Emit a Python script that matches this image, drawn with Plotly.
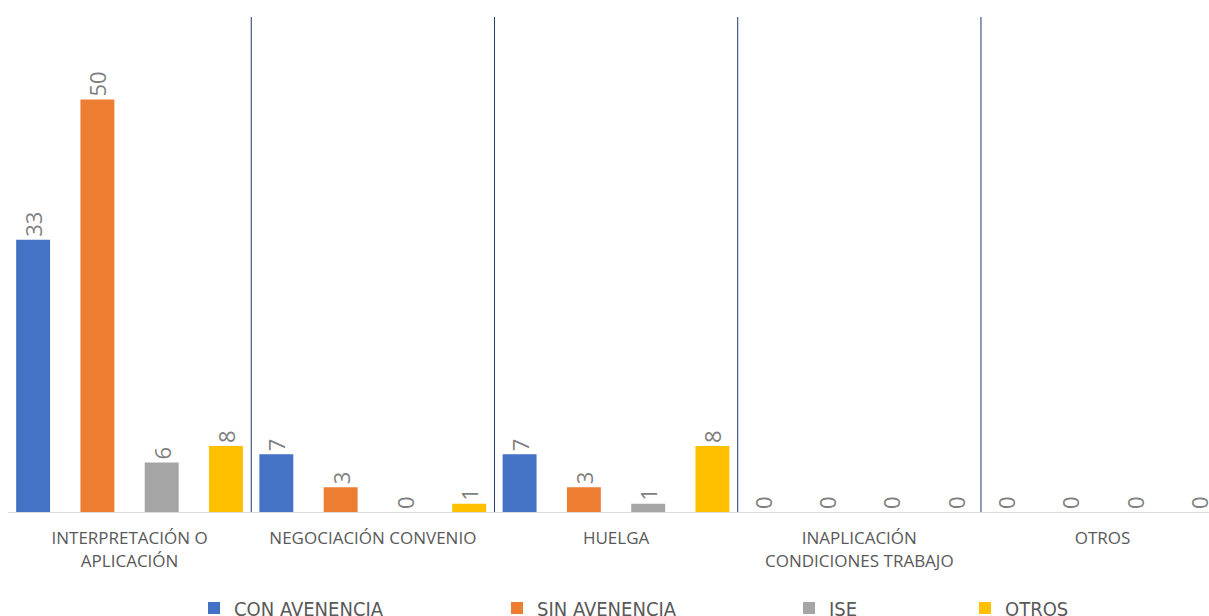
import plotly.graph_objects as go

# Conflict categories (x axis) and counts per outcome
categories = [
    "INTERPRETACIÓN O<br>APLICACIÓN",
    "NEGOCIACIÓN CONVENIO",
    "HUELGA",
    "INAPLICACIÓN<br>CONDICIONES TRABAJO",
    "OTROS",
]
series_names = ["CON AVENENCIA", "SIN AVENENCIA", "ISE", "OTROS"]
con_avenencia = [33, 7, 7, 0, 0]
sin_avenencia = [50, 3, 3, 0, 0]
ise = [6, 0, 1, 0, 0]
otros = [8, 1, 8, 0, 0]

series_values = [con_avenencia, sin_avenencia, ise, otros]
colors = ["#4472C4", "#ED7D31", "#A5A5A5", "#FFC000"]

W, H = 1209, 616
plot_left = 7.7
cat_px = 243.3
bar_w = 0.1395
bar_pitch = 0.2643
group_start = -0.4665

x_idx = list(range(len(categories)))

fig = go.Figure()
legend_px = [208, 511, 803, 979]
for i, (name, vals, col) in enumerate(zip(series_names, series_values, colors)):
    lg = "legend" if i == 0 else f"legend{i + 1}"
    fig.add_trace(go.Bar(
        x=x_idx,
        y=vals,
        name=name,
        marker=dict(color=col, line=dict(width=0)),
        width=bar_w,
        offset=group_start + i * bar_pitch,
        text=[str(v) for v in vals],
        textposition="outside",
        textangle=-90,
        constraintext="none",
        cliponaxis=False,
        textfont=dict(family="Open Sans", size=22, color="#7F7F7F"),
        legend=lg,
        hoverinfo="skip",
    ))

# vertical separators between categories
shapes = []
for k in range(len(categories) - 1):
    shapes.append(dict(
        type="line", xref="x", yref="paper",
        x0=k + 0.5, x1=k + 0.5, y0=0, y1=1,
        line=dict(color="#1F3864", width=1), layer="below",
    ))

plot_w = W - plot_left
x_end = -0.5 + plot_w / cat_px

layout_legends = {}
for i, px in enumerate(legend_px):
    key = "legend" if i == 0 else f"legend{i + 1}"
    layout_legends[key] = dict(
        xref="container", yref="container",
        x=(px - 14) / W, y=1 - 608 / H,
        xanchor="left", yanchor="middle",
        orientation="h",
        font=dict(family="DejaVu Sans Condensed, Roboto, sans-serif", size=20,
                  color="#595959"),
        bgcolor="rgba(0,0,0,0)",
        itemclick=False, itemdoubleclick=False,
    )

fig.update_layout(
    width=W, height=H,
    margin=dict(l=plot_left, r=0, t=17, b=104),
    paper_bgcolor="white", plot_bgcolor="white",
    barmode="overlay",
    showlegend=True,
    shapes=shapes,
    xaxis=dict(
        range=[-0.5, x_end],
        tickmode="array", tickvals=x_idx, ticktext=categories,
        showgrid=False, zeroline=False,
        showline=True, linecolor="#D9D9D9", linewidth=1,
        ticks="", ticklabelstandoff=11,
        tickfont=dict(family="Open Sans", size=17, color="#595959"),
        fixedrange=True,
    ),
    yaxis=dict(
        range=[0, 60], visible=False, showgrid=False, zeroline=False,
        fixedrange=True,
    ),
    **layout_legends,
)

fig.write_html("out.html")
